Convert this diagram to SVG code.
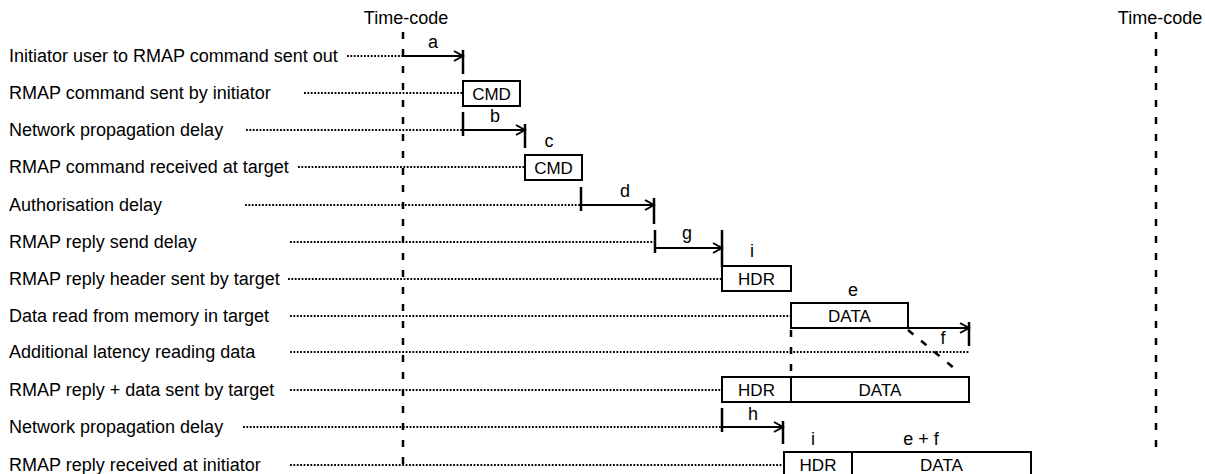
<svg xmlns="http://www.w3.org/2000/svg" width="1205" height="474" viewBox="0 0 1205 474">
<style>
text{font-family:"Liberation Sans",Arial,sans-serif;fill:#000}
.lbl{font-size:18px}
.mid{font-size:18px;text-anchor:middle}
.bt{font-size:17px;text-anchor:middle}
.dot{stroke:#000;stroke-width:2.2;stroke-dasharray:1.8 1.6;fill:none}
.dash{stroke:#000;stroke-width:2.5;stroke-dasharray:7 10;fill:none}
.tick{stroke:#000;stroke-width:2.5;fill:none}
.arr{stroke:#000;stroke-width:2;fill:none;marker-end:url(#ah)}
.box{fill:#fff;stroke:#000;stroke-width:2}
</style>
<defs>
<marker id="ah" markerWidth="12" markerHeight="12" refX="10" refY="6" orient="auto" markerUnits="userSpaceOnUse">
<path d="M1,1 L10,6 L1,11" fill="none" stroke="#000" stroke-width="2"/>
</marker>
</defs>
<rect width="1205" height="474" fill="#fff"/>

<g id="timecode-left">
<text class="mid" x="406" y="24">Time-code</text>
<line class="dash" x1="403" y1="32" x2="403" y2="467"/>
</g>
<g id="timecode-right">
<text class="mid" x="1160" y="24">Time-code</text>
<line class="dash" x1="1156" y1="32" x2="1156" y2="457"/>
</g>

<g id="connectors">
<line class="dot" x1="347" y1="56" x2="403" y2="56"/>
<line class="dot" x1="304" y1="93" x2="463" y2="93"/>
<line class="dot" x1="246" y1="130" x2="463" y2="130"/>
<line class="dot" x1="298" y1="167" x2="525" y2="167"/>
<line class="dot" x1="245" y1="205" x2="581" y2="205"/>
<line class="dot" x1="290" y1="242" x2="655" y2="242"/>
<line class="dot" x1="288" y1="279" x2="722" y2="279"/>
<line class="dot" x1="290" y1="316" x2="791" y2="316"/>
<line class="dot" x1="290" y1="352" x2="969" y2="352"/>
<line class="dot" x1="290" y1="390" x2="722" y2="390"/>
<line class="dot" x1="243" y1="427" x2="722" y2="427"/>
<line class="dot" x1="290" y1="465" x2="784" y2="465"/>

<line class="arr" x1="403" y1="56" x2="463" y2="56"/>
<line class="tick" x1="463" y1="50" x2="463" y2="74"/>

<line class="tick" x1="463" y1="112" x2="463" y2="136"/>
<line class="arr" x1="463" y1="130" x2="525" y2="130"/>
<line class="tick" x1="525" y1="124" x2="525" y2="148"/>

<line class="tick" x1="581" y1="187" x2="581" y2="211"/>
<line class="arr" x1="581" y1="205" x2="654" y2="205"/>
<line class="tick" x1="654" y1="198" x2="654" y2="224"/>

<line class="tick" x1="655" y1="230" x2="655" y2="253"/>
<line class="arr" x1="655" y1="248" x2="722" y2="248"/>
<line class="tick" x1="722" y1="230" x2="722" y2="267"/>

<line class="arr" x1="791" y1="328" x2="969" y2="328"/>
<line class="tick" x1="969" y1="322" x2="969" y2="346"/>
<line class="dash" x1="791" y1="330" x2="791" y2="377"/>
<line class="dash" x1="908" y1="330" x2="960" y2="373"/>

<line class="tick" x1="722" y1="408" x2="722" y2="432"/>
<line class="arr" x1="722" y1="427" x2="783" y2="427"/>
<line class="tick" x1="783" y1="421" x2="783" y2="444"/>
</g>

<g id="row1">
<text class="lbl" x="9" y="62">Initiator user to RMAP command sent out</text>
<text class="mid" x="433" y="48">a</text>
</g>
<g id="row2">
<text class="lbl" x="9" y="99">RMAP command sent by initiator</text>
<rect class="box" x="463" y="81" width="57" height="25"/>
<text class="bt" x="491.5" y="99.5">CMD</text>
</g>
<g id="row3">
<text class="lbl" x="9" y="136">Network propagation delay</text>
<text class="mid" x="495" y="122">b</text>
<text class="mid" x="549" y="147">c</text>
</g>
<g id="row4">
<text class="lbl" x="9" y="173">RMAP command received at target</text>
<rect class="box" x="525" y="155" width="57" height="25"/>
<text class="bt" x="553.5" y="173.5">CMD</text>
</g>
<g id="row5">
<text class="lbl" x="9" y="211">Authorisation delay</text>
<text class="mid" x="625" y="197">d</text>
</g>
<g id="row6">
<text class="lbl" x="9" y="248">RMAP reply send delay</text>
<text class="mid" x="687" y="239">g</text>
<text class="mid" x="752" y="257">i</text>
</g>
<g id="row7">
<text class="lbl" x="9" y="285">RMAP reply header sent by target</text>
<rect class="box" x="722" y="266" width="69" height="25"/>
<text class="bt" x="756.5" y="284.5">HDR</text>
</g>
<g id="row8">
<text class="lbl" x="9" y="322">Data read from memory in target</text>
<rect class="box" x="791" y="303" width="117" height="25"/>
<text class="bt" x="849.5" y="321.5">DATA</text>
<text class="mid" x="853" y="296">e</text>
<text class="mid" x="943" y="344">f</text>
</g>
<g id="row9">
<text class="lbl" x="9" y="358">Additional latency reading data</text>
</g>
<g id="row10">
<text class="lbl" x="9" y="396">RMAP reply + data sent by target</text>
<rect class="box" x="722" y="377" width="69" height="25"/>
<rect class="box" x="791" y="377" width="178" height="25"/>
<text class="bt" x="756.5" y="396">HDR</text>
<text class="bt" x="880" y="396">DATA</text>
</g>
<g id="row11">
<text class="lbl" x="9" y="433">Network propagation delay</text>
<text class="mid" x="753" y="420">h</text>
<text class="mid" x="813" y="445">i</text>
<text class="mid" x="921" y="445">e + f</text>
</g>
<g id="row12">
<text class="lbl" x="9" y="471">RMAP reply received at initiator</text>
<rect class="box" x="784" y="452" width="68" height="30"/>
<rect class="box" x="852" y="452" width="179" height="30"/>
<text class="bt" x="818" y="471">HDR</text>
<text class="bt" x="941.5" y="471">DATA</text>
</g>
</svg>
